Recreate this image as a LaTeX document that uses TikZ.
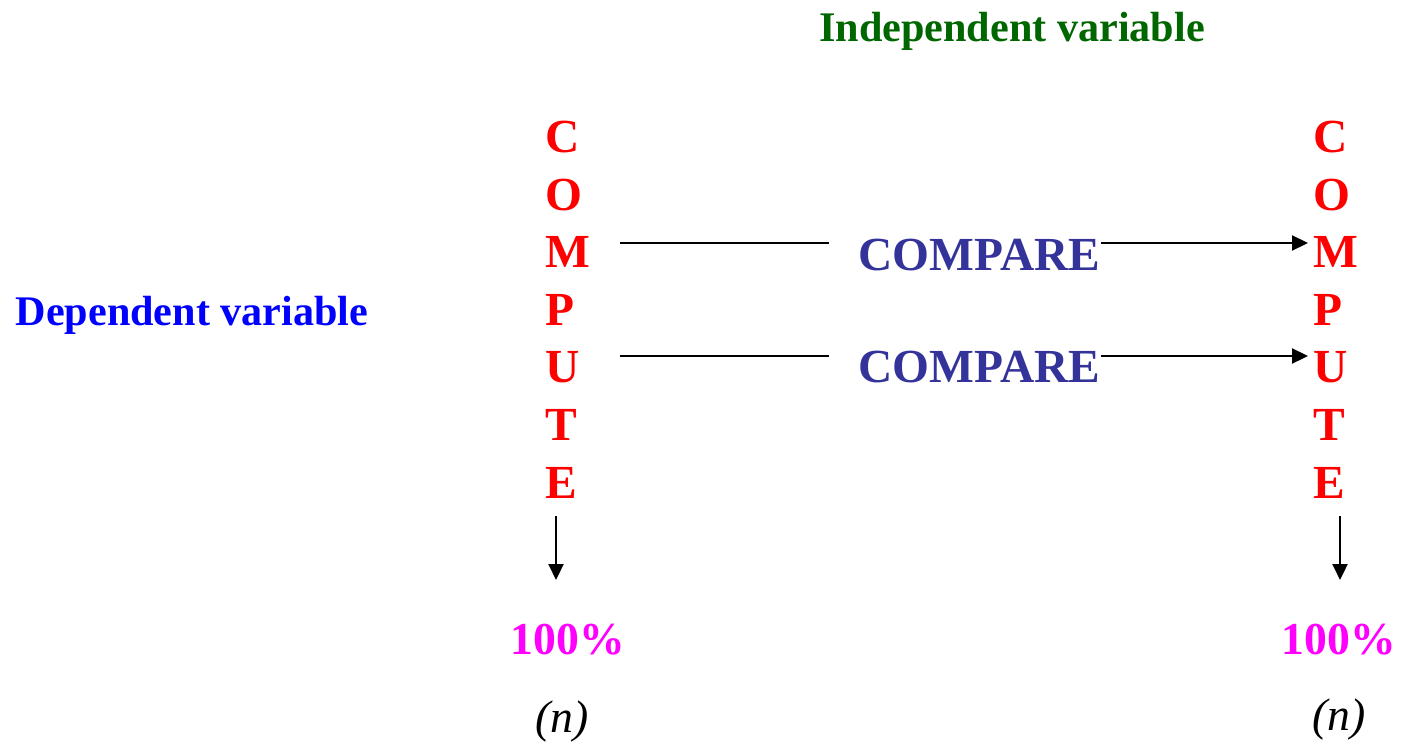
\documentclass[tikz,border=0pt]{standalone}
\usepackage{fontspec}
\setmainfont{Liberation Serif}
\usepackage{xcolor}
\usetikzlibrary{arrows.meta, positioning}
\definecolor{computered}{RGB}{255, 0, 0}
\definecolor{compareblue}{RGB}{51, 51, 153}
\definecolor{pctmagenta}{RGB}{255, 0, 255}
\definecolor{depblue}{RGB}{0, 0, 255}
\definecolor{indgreen}{RGB}{0, 102, 0}
\tikzset{
    letter/.style={anchor=base west, inner sep=0.5mm, text=computered, font=\fontsize{13.5}{16}\selectfont\bfseries},
    cmp/.style={anchor=base west, inner sep=0pt, text=compareblue, font=\fontsize{13.5}{16}\selectfont\bfseries},
    pct/.style={anchor=base west, inner sep=0pt, text=pctmagenta, font=\fontsize{13}{15}\selectfont\bfseries},
    ncount/.style={anchor=base west, inner sep=0pt, font=\fontsize{13}{15}\selectfont\itshape},
    varlabel/.style={anchor=base, inner sep=0pt, font=\fontsize{12}{14}\selectfont\bfseries},
    ln/.style={line width=0.6pt, black},
    arr/.style={-{Triangle[length=1.6mm, width=1.5mm]}, line width=0.6pt, black}
}
\begin{document}
\begin{tikzpicture}
                \useasboundingbox (0,0) rectangle (14.04,7.47);
                \node[varlabel, text=indgreen] (indep) at (10.12,7.05) {Independent variable};
                \node[varlabel, text=depblue, anchor=base west] (dep) at (0.15,4.22) {Dependent variable};
                % left column
                \node[letter] (lC) at (5.40,5.95) {C};
                \node[letter] (lO) at (5.40,5.37) {O};
                \node[letter] (lM) at (5.40,4.80) {M};
                \node[letter] (lP) at (5.40,4.22) {P};
                \node[letter] (lU) at (5.40,3.65) {U};
                \node[letter] (lT) at (5.40,3.07) {T};
                \node[letter] (lE) at (5.40,2.49) {E};
                % right column
                \node[letter] (rC) at (13.08,5.95) {C};
                \node[letter] (rO) at (13.08,5.37) {O};
                \node[letter] (rM) at (13.08,4.80) {M};
                \node[letter] (rP) at (13.08,4.22) {P};
                \node[letter] (rU) at (13.08,3.65) {U};
                \node[letter] (rT) at (13.08,3.07) {T};
                \node[letter] (rE) at (13.08,2.49) {E};
                \node[cmp] (cmpA) at (8.58,4.77) {COMPARE};
                \node[cmp] (cmpB) at (8.58,3.65) {COMPARE};
                \node[pct] (lpct) at (5.10,0.93) {100\%};
                \node[pct] (rpct) at (12.81,0.93) {100\%};
                \node[ncount] (ln) at (5.35,0.15) {(n)};
                \node[ncount] (rn) at (13.12,0.17) {(n)};
                \coordinate (a1) at (6.20,5.04); \coordinate (a2) at (8.29,5.04);
                \coordinate (b1) at (6.20,3.91); \coordinate (b2) at (8.29,3.91);
                \coordinate (d1) at (5.56,2.31); \coordinate (d2) at (5.56,1.67);
                \coordinate (e1) at (13.40,2.31); \coordinate (e2) at (13.40,1.67);
                \draw[ln] (a1)--(a2); \draw[arr] (cmpA.east |- a1)--(rM.west |- a1);
                \draw[ln] (b1)--(b2); \draw[arr] (cmpB.east |- b1)--(rU.west |- b1);
                \draw[arr] (d1)--(d2); \draw[arr] (e1)--(e2);
            \end{tikzpicture}
\end{document}
